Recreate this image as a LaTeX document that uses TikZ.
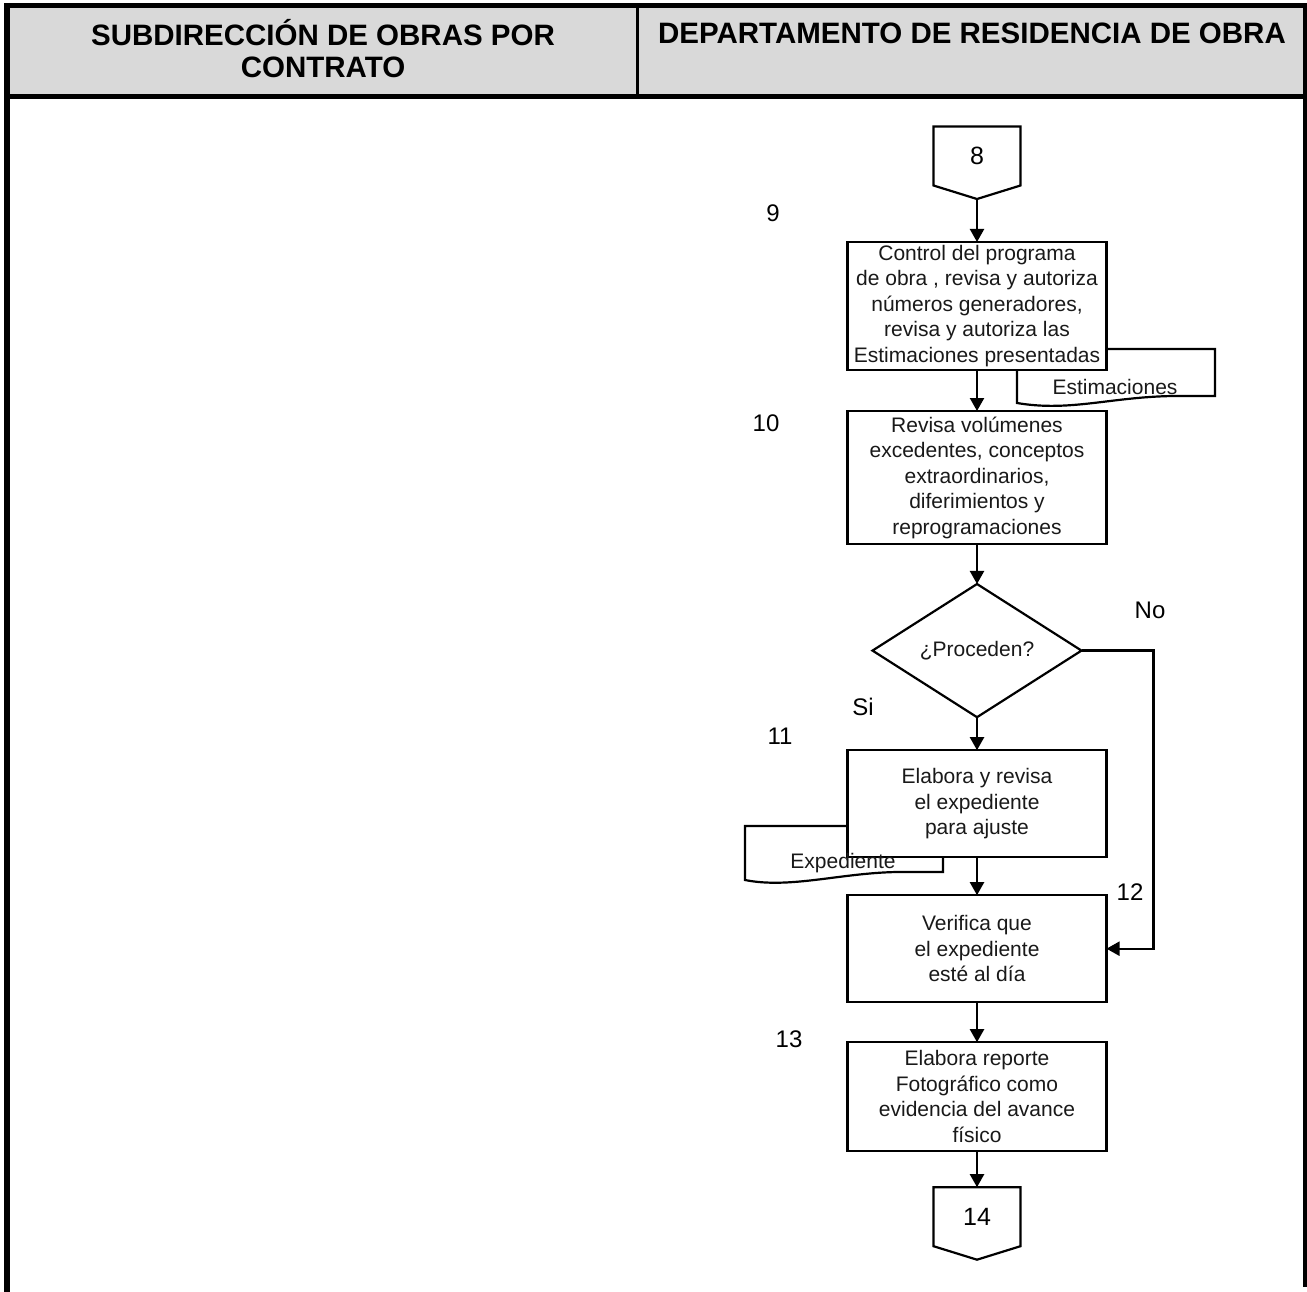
\documentclass[tikz,border=0pt]{standalone}
\usepackage{fontspec}
\setmainfont{Liberation Sans}
\usetikzlibrary{positioning,shapes.geometric,arrows.meta}

% outline of an off-page connector round a named node
\newcommand{\offPageOutline}[1]{%
  \draw[line width=2.2pt] (#1.south west) -- (#1.north west) -- (#1.north east)
    -- (#1.south east) -- ([yshift=-13.5pt]#1.south) -- cycle;}

\begin{document}
\begin{tikzpicture}[x=1pt, y=-1pt, >={Triangle[length=13pt,width=14pt]}]

    %
    % Styles for steps, documents and flow edges
    %
    \tikzstyle{bodyText} = [font={\fontsize{21}{25.5}\selectfont}, align=center, text=black!90]
    \tikzstyle{stepBox} = [bodyText, draw, line width=2.2pt, rectangle, fill=white,
                          minimum width=259pt, inner sep=0pt, outer sep=0pt]
    \tikzstyle{decision} = [bodyText, draw, line width=2.2pt, diamond, fill=white,
                          minimum width=209pt, minimum height=129pt, inner sep=0pt, outer sep=0pt]
    \tikzstyle{offPage} = [minimum width=87pt, minimum height=59pt, inner sep=0pt, outer sep=0pt,
                          font={\fontsize{25}{30}\selectfont}]
    \tikzstyle{docShape} = [draw, line width=2.2pt, fill=white];
    \tikzstyle{stepNum} = [font={\fontsize{24}{28}\selectfont}];
    \tikzstyle{headText} = [font={\fontsize{29.5}{32}\selectfont\bfseries}, align=center];
    \tikzstyle{flow} = [line width=2.2pt, ->];

    %
    % Frame and header
    %
    \useasboundingbox (0,0) rectangle (1307,1292);
    \fill[black!15] (7,6) rectangle (1304,97);
    \draw[line width=5pt] (4,6) -- (1307,6);
    \draw[line width=5pt] (4,97) -- (1307,97);
    \draw[line width=6pt] (7,3) -- (7,1292);
    \draw[line width=4pt] (1305,3) -- (1305,1287);
    \draw[line width=3pt] (637,6) -- (637,97);
    \node[headText, name=hleft] at (323,49) {SUBDIRECCIÓN DE OBRAS POR\\CONTRATO};
    \node[headText, name=hright] at (972,33) {DEPARTAMENTO DE RESIDENCIA DE OBRA};

    %
    % Documents (behind the steps)
    %
    \draw[docShape] (1017,403) .. controls (1070,412) and (1110,397) .. (1173,396)
      -- (1215,396) -- (1215,349) -- (1017,349) -- cycle;
    \draw[docShape] (745,880) .. controls (790,889) and (840,873) .. (897,872)
      -- (943,872) -- (943,826) -- (745,826) -- cycle;

    %
    % Position steps
    %
    \node[offPage, name=c8] at (977,156) {8};
    \offPageOutline{c8}
    \coordinate (c8tip) at ([yshift=-13.5pt]c8.south);
    \node[stepBox, name=s9, minimum height=128pt, below=43pt of c8tip]
      {Control del programa\\de obra , revisa y autoriza\\números generadores,\\revisa y autoriza las\\Estimaciones presentadas};
    \node[stepBox, name=s10, minimum height=133pt, below=41pt of s9]
      {Revisa volúmenes\\excedentes, conceptos\\extraordinarios,\\diferimientos y\\reprogramaciones};
    \node[decision, name=q, below=40pt of s10] {¿Proceden?};
    \node[stepBox, name=s11, minimum height=107pt, below=33pt of q]
      {Elabora y revisa\\el expediente\\para ajuste};
    \node[stepBox, name=s12, minimum height=107pt, below=38pt of s11]
      {Verifica que\\el expediente\\esté al día};
    \node[stepBox, name=s13, minimum height=109pt, below=40pt of s12]
      {Elabora reporte\\Fotográfico como\\evidencia del avance\\físico};
    \node[offPage, name=c14, below=36pt of s13] {14};
    \offPageOutline{c14}

    \node[bodyText, name=estdoc] at (1115,387) {Estimaciones};
    \node[bodyText, name=expdoc] at (843,863) {Expediente};

    %
    % Step numbers and answers
    %
    \node[stepNum, name=n9] at (773,213) {9};
    \node[stepNum, name=n10] at (766,423) {10};
    \node[stepNum, name=n11] at (780,736) {11};
    \node[stepNum, name=n12] at (1130,892) {12};
    \node[stepNum, name=n13] at (789,1039) {13};
    \node[stepNum, name=lblNo] at (1150,610) {No};
    \node[stepNum, name=lblSi] at (863,707) {Si};

    %
    % Connect steps via edges
    %
    \draw[flow] (c8tip) -- (s9.north);
    \draw[flow] (s9) -- (s10);
    \draw[flow] (s10) -- (q);
    \draw[flow] (q) -- (s11);
    \draw[flow] (s11) -- (s12);
    \draw[flow] (s12) -- (s13);
    \draw[flow] (s13.south) -- (c14.north);
    \draw[flow] (q.east) -- ++(72,0) |- (s12.east);
\end{tikzpicture}
\end{document}
